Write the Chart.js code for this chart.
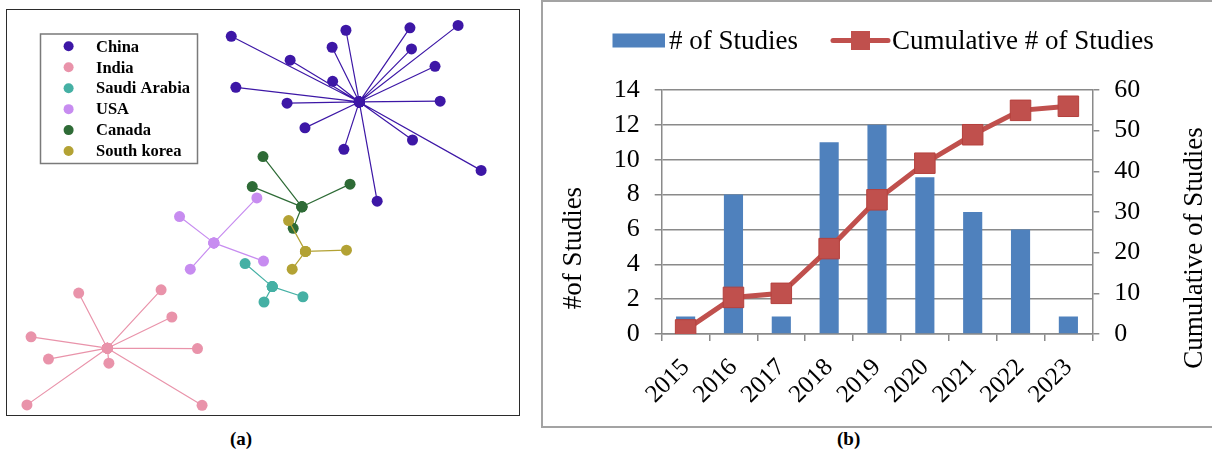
<!DOCTYPE html>
<html>
<head>
<meta charset="utf-8">
<script src="https://cdn.jsdelivr.net/npm/chart.js@4/dist/chart.umd.min.js"></script>
<style>
  html, body { margin: 0; padding: 0; background: #fff; }
  body { width: 1212px; height: 455px; position: relative; overflow: hidden; font-family: "Liberation Serif", serif; }
  #frameA { position: absolute; left: 6px; top: 9px; width: 512px; height: 405px; border: 1.5px solid #2b2b2b; }
  #boxA { position: absolute; left: 0; top: 0; width: 512px; height: 405px; }
  #frameB { position: absolute; left: 541px; top: 0; width: 700px; height: 424px; border: 2px solid #a3a3a3; }
  #boxB { position: absolute; left: 542px; top: 0; width: 670px; height: 426px; }
  .cap { position: absolute; font: bold 19px "Liberation Serif", serif; top: 428px; }
</style>
</head>
<body>
<div id="frameA"><div id="boxA"><canvas id="netChart"></canvas></div></div>
<div id="frameB"></div>
<div id="boxB"><canvas id="studyChart"></canvas></div>
<div class="cap" style="left:230px">(a)</div>
<div class="cap" style="left:837px">(b)</div>
<script>
// ---- panel (a): country networks, layout coordinates (0-100) ----
const countries = ["China", "India", "Saudi Arabia", "USA", "Canada", "South korea"];

const chinaHub = [68.8, 77.3];
const chinaLeaves = [[43.8, 93.5], [66.2, 95.0], [78.7, 95.6], [88.1, 96.2], [63.5, 90.8], [79.0, 90.4],
  [55.3, 87.6], [83.6, 86.1], [63.6, 82.4], [44.7, 80.9], [54.7, 77.0], [84.6, 77.5], [58.2, 70.9],
  [79.2, 67.9], [65.8, 65.6], [92.6, 60.4], [72.3, 52.8]];

const indiaHub = [19.6, 16.5];
const indiaLeaves = [[14.0, 30.1], [30.1, 30.9], [32.2, 24.2], [4.7, 19.3], [8.1, 13.8], [19.9, 12.8],
  [37.2, 16.4], [3.9, 2.5], [38.1, 2.4]];

const saudiHub = [51.8, 31.7];
const saudiLeaves = [[46.5, 37.4], [57.8, 29.2], [50.2, 27.9]];

const usaHub = [40.4, 42.5];
const usaLeaves = [[48.8, 53.6], [33.7, 49.0], [50.1, 38.0], [35.8, 36.0]];

const canadaHub = [57.6, 51.4];
const canadaLeaves = [[50.0, 63.8], [47.9, 56.4], [67.0, 57.0], [55.9, 46.1]];

const koreaHub = [58.3, 40.4];
const koreaLeaves = [[55.0, 48.0], [66.3, 40.7], [55.7, 36.0]];

// ---- panel (b): studies per year ----
const years = ["2015", "2016", "2017", "2018", "2019", "2020", "2021", "2022", "2023"];
const studies = [1, 8, 1, 11, 12, 9, 7, 6, 1];
const cumulative = [1, 9, 10, 21, 33, 42, 49, 55, 56];
const leftTicks = [0, 14, 2];    // min, max, step
const rightTicks = [0, 60, 10];

const netColors = ["#3d17a6", "#e993aa", "#45b0a4", "#c78cf0", "#2e6b36", "#b3a234"];
const hubs = [chinaHub, indiaHub, saudiHub, usaHub, canadaHub, koreaHub];
const leaves = [chinaLeaves, indiaLeaves, saudiLeaves, usaLeaves, canadaLeaves, koreaLeaves];

function star(hub, pts) {
  const out = [];
  pts.forEach(p => {
    out.push({ x: hub[0], y: hub[1] });
    out.push({ x: p[0], y: p[1] });
  });
  return out;
}

const legendA = {
  id: "legendA",
  afterDraw(chart) {
    const ctx = chart.ctx;
    ctx.save();
    ctx.strokeStyle = "#7a7a7a";
    ctx.lineWidth = 1.5;
    ctx.strokeRect(33.5, 24, 157, 129.5);
    ctx.font = 'bold 16.5px "Liberation Serif"';
    ctx.textBaseline = "middle";
    chart.data.datasets.forEach((ds, i) => {
      const y = 36.3 + i * 20.95;
      ctx.fillStyle = ds.backgroundColor;
      ctx.beginPath();
      ctx.arc(61.6, y, 5, 0, Math.PI * 2);
      ctx.fill();
      ctx.fillStyle = "#000";
      ctx.fillText(ds.label, 89, y + 1);
    });
    ctx.restore();
  }
};

new Chart(document.getElementById("netChart"), {
  type: "scatter",
  data: {
    datasets: countries.map((c, i) => ({
      label: c,
      data: star(hubs[i], leaves[i]),
      showLine: true,
      borderColor: netColors[i],
      backgroundColor: netColors[i],
      pointBackgroundColor: netColors[i],
      pointBorderWidth: 0,
      pointRadius: 5.5,
      borderWidth: 1.2,
      borderJoinStyle: "round",
      order: countries.length - i,
      clip: false
    }))
  },
  options: {
    responsive: true,
    maintainAspectRatio: false,
    animation: false,
    layout: { padding: 0, autoPadding: false },
    scales: {
      x: { type: "linear", min: 0, max: 100, display: false },
      y: { type: "linear", min: 0, max: 100, display: false }
    },
    plugins: { legend: { display: false }, tooltip: { enabled: false } }
  },
  plugins: [legendA]
});

// ---- panel (b) ----
const gridGray = "#8a8a8a";

const decorB = {
  id: "decorB",
  afterDraw(chart) {
    const ctx = chart.ctx, a = chart.chartArea;
    const bar = chart.data.datasets[0], line = chart.data.datasets[1];
    ctx.save();
    ctx.font = '27px "Liberation Serif"';
    ctx.textBaseline = "middle";
    const ly = 40.5;
    ctx.fillStyle = bar.backgroundColor;
    ctx.fillRect(70.5, ly - 7, 52.5, 14);
    ctx.fillStyle = "#000";
    ctx.fillText(bar.label, 127, ly + 1);
    ctx.strokeStyle = line.borderColor;
    ctx.lineWidth = 5;
    ctx.lineCap = "round";
    ctx.beginPath();
    ctx.moveTo(291, ly);
    ctx.lineTo(346, ly);
    ctx.stroke();
    ctx.fillStyle = line.pointBackgroundColor;
    ctx.fillRect(309, ly - 9.5, 19, 19);
    ctx.fillStyle = "#000";
    ctx.fillText(line.label, 350, ly + 1);
    // axis titles
    ctx.textAlign = "center";
    ctx.save();
    ctx.translate(a.left - 88, 248);
    ctx.rotate(-Math.PI / 2);
    ctx.fillText("#of Studies", 0, 0);
    ctx.restore();
    ctx.save();
    ctx.translate(a.right + 103, 248);
    ctx.rotate(-Math.PI / 2);
    ctx.fillText("Cumulative of Studies", 0, 0);
    ctx.restore();
    ctx.restore();
  }
};

new Chart(document.getElementById("studyChart"), {
  type: "bar",
  data: {
    labels: years,
    datasets: [{
      type: "bar",
      label: "# of Studies",
      data: studies,
      yAxisID: "y",
      backgroundColor: "#4f81bd",
      categoryPercentage: 1,
      barPercentage: 0.4,
      order: 1
    }, {
      type: "line",
      label: "Cumulative # of Studies",
      data: cumulative,
      yAxisID: "y1",
      borderColor: "#c0504d",
      backgroundColor: "#c0504d",
      pointBackgroundColor: "#c0504d",
      pointBorderColor: "#b5403d",
      pointBorderWidth: 1,
      borderWidth: 5,
      tension: 0,
      pointStyle: "rect",
      pointRadius: 14.5,
      order: 0
    }]
  },
  options: {
    responsive: true,
    maintainAspectRatio: false,
    animation: false,
    layout: { padding: { top: 90, left: 0, right: 0, bottom: 0 }, autoPadding: false },
    plugins: { legend: { display: false }, tooltip: { enabled: false } },
    scales: {
      x: {
        offset: true,
        grid: { offset: true, drawOnChartArea: false, tickLength: 7, color: gridGray, lineWidth: 1.5 },
        border: { color: gridGray, width: 1.5 },
        ticks: { color: "#000", font: { family: "Liberation Serif", size: 25 }, minRotation: 45, maxRotation: 45, padding: 12 },
        afterFit: s => { s.height = 92; }
      },
      y: {
        position: "left",
        min: leftTicks[0], max: leftTicks[1],
        ticks: { stepSize: leftTicks[2], color: "#000", font: { family: "Liberation Serif", size: 26 }, padding: 15 },
        grid: { color: gridGray, lineWidth: 1.5, tickLength: 7 },
        border: { color: gridGray, width: 1.5 },
        afterFit: s => { s.width = 119.7; }
      },
      y1: {
        position: "right",
        min: rightTicks[0], max: rightTicks[1],
        ticks: { stepSize: rightTicks[2], color: "#000", font: { family: "Liberation Serif", size: 26 }, padding: 15 },
        grid: { drawOnChartArea: false, color: gridGray, lineWidth: 1.5, tickLength: 7 },
        border: { color: gridGray, width: 1.5 },
        afterFit: s => { s.width = 119.7; }
      }
    }
  },
  plugins: [decorB]
});
</script>
</body>
</html>
